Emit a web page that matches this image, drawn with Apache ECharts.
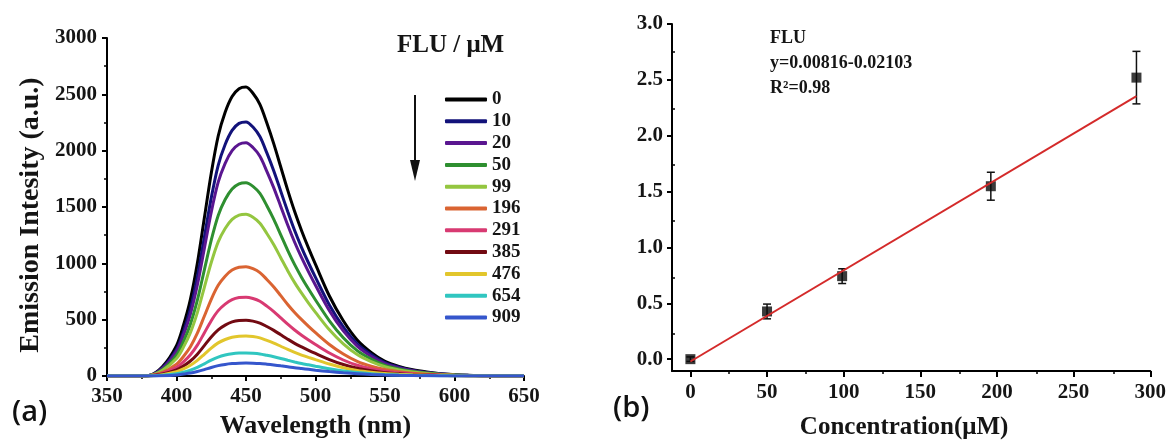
<!DOCTYPE html>
<html>
<head>
<meta charset="utf-8">
<script src="https://cdn.jsdelivr.net/npm/echarts@6/dist/echarts.min.js"></script>
<style>
  html, body { margin: 0; padding: 0; background: #fff; }
  #chart { width: 1169px; height: 445px; }
</style>
</head>
<body>
<div id="chart"></div>
<script>
// (a) emission spectra (5 nm steps around the peak)
const wavelengths = [350, 360, 370, 380, 390,
  400, 405, 410, 415, 420, 425, 430, 435, 440, 445, 450, 455, 460, 465, 470, 475, 480, 485, 490, 495, 500,
  510, 520, 530, 540, 550, 560, 570, 580, 590, 600, 610, 620, 630, 640, 650]

const flu0   = [0, 0, 0, 5, 85, 270, 450, 680, 1000, 1400, 1800, 2130, 2340, 2480, 2550, 2565, 2510, 2410, 2245, 2060, 1855, 1650, 1460, 1290, 1135, 990, 710, 490, 320, 210, 130, 85, 55, 35, 20, 12, 6, 3, 1, 0, 0]
const flu10  = [0, 0, 0, 4, 75, 235, 393, 595, 878, 1230, 1581, 1870, 2055, 2180, 2242, 2255, 2210, 2125, 1980, 1820, 1640, 1460, 1291, 1140, 1003, 875, 630, 435, 285, 190, 118, 78, 50, 32, 19, 11, 6, 3, 1, 0, 0]
const flu20  = [0, 0, 0, 4, 70, 220, 365, 550, 808, 1130, 1454, 1720, 1888, 2000, 2057, 2070, 2028, 1950, 1817, 1670, 1505, 1340, 1187, 1050, 924, 805, 580, 400, 265, 175, 110, 72, 47, 30, 18, 10, 5, 3, 1, 0, 0]
const flu50  = [0, 0, 0, 3, 58, 185, 305, 460, 673, 940, 1206, 1425, 1566, 1660, 1706, 1715, 1683, 1620, 1511, 1390, 1253, 1115, 988, 875, 772, 675, 490, 340, 225, 150, 95, 63, 41, 26, 16, 9, 5, 2, 1, 0, 0]
const flu99  = [0, 0, 0, 3, 50, 155, 256, 385, 563, 785, 1007, 1190, 1309, 1390, 1428, 1435, 1408, 1355, 1265, 1165, 1050, 935, 829, 735, 647, 565, 410, 285, 190, 127, 82, 54, 35, 22, 14, 8, 4, 2, 1, 0, 0]
const flu196 = [0, 0, 0, 2, 33, 105, 173, 260, 380, 530, 681, 805, 886, 940, 966, 970, 952, 918, 857, 790, 713, 635, 564, 500, 441, 385, 280, 195, 130, 87, 57, 38, 25, 16, 10, 6, 3, 1, 0, 0, 0]
const flu291 = [0, 0, 0, 1, 24, 76, 125, 188, 274, 382, 491, 580, 638, 678, 697, 700, 688, 663, 620, 572, 516, 460, 408, 362, 320, 280, 204, 142, 95, 64, 42, 28, 18, 12, 7, 4, 2, 1, 0, 0, 0]
const flu385 = [0, 0, 0, 1, 17, 54, 89, 133, 194, 270, 347, 410, 452, 480, 493, 495, 487, 470, 439, 405, 366, 327, 290, 258, 228, 200, 146, 102, 69, 46, 30, 20, 13, 8, 5, 3, 1, 0, 0, 0, 0]
const flu476 = [0, 0, 0, 0, 12, 38, 63, 95, 139, 193, 248, 294, 324, 344, 353, 355, 350, 338, 316, 292, 264, 236, 210, 186, 165, 145, 106, 74, 50, 34, 22, 15, 10, 6, 4, 2, 1, 0, 0, 0, 0]
const flu654 = [0, 0, 0, 0, 6, 20, 34, 52, 77, 108, 141, 168, 186, 198, 204, 205, 202, 196, 184, 171, 156, 140, 125, 111, 99, 87, 64, 45, 31, 21, 14, 9, 6, 4, 2, 1, 0, 0, 0, 0, 0]
const flu909 = [0, 0, 0, 0, 2, 9, 17, 26, 40, 57, 76, 92, 103, 110, 114, 115, 114, 111, 105, 98, 90, 82, 73, 66, 59, 52, 39, 28, 19, 13, 9, 6, 4, 2, 1, 0, 0, 0, 0, 0, 0]

const concLabels = ['0', '10', '20', '50', '99', '196', '291', '385', '476', '654', '909']
const spectra = [flu0, flu10, flu20, flu50, flu99, flu196, flu291, flu385, flu476, flu654, flu909]
const curveColors = ['#000000', '#12127a', '#5a1690', '#2e8f30', '#94c640', '#da6432', '#d83a72',
  '#720a12', '#e2c62c', '#30c6c0', '#3556cc']

// (b) calibration
const calConc = [0, 50, 99, 196, 291]
const calMean = [0.0, 0.427, 0.743, 1.548, 2.52]
const calErr = [0.02, 0.066, 0.066, 0.125, 0.235]
const fitX = [0, 291]
const fitY = [-0.021, 2.354]

const wlTicks = [350, 400, 450, 500, 550, 600, 650]
const intensityTicks = [0, 500, 1000, 1500, 2000, 2500, 3000]
const concTicks = [0, 50, 100, 150, 200, 250, 300]
const concMinor = [25, 75, 125, 175, 225, 275]
const ratioTicks = [0, 0.5, 1.0, 1.5, 2.0, 2.5, 3.0]
const ratioMinor = [0.25, 0.75, 1.25, 1.75, 2.25, 2.75]

const serif = '"Liberation Serif", "Times New Roman", serif'
const ink = '#151515'
const labelStyle = { fontFamily: serif, fontWeight: 'bold', fontSize: 21, color: ink }

const rightRect = { left: 672, top: 24, width: 480, height: 350 }

const chart = echarts.init(document.getElementById('chart'))

chart.setOption({
  animation: false,
  backgroundColor: '#fff',
  grid: [
    { left: 107, top: 38, width: 417, height: 338 },
    rightRect,
    rightRect
  ],
  legend: {
    orient: 'vertical',
    left: 440,
    top: 85,
    itemWidth: 42,
    itemHeight: 4,
    itemGap: 2.8,
    icon: 'roundRect',
    data: concLabels,
    textStyle: { fontFamily: serif, fontWeight: 'bold', fontSize: 19, color: ink }
  },
  xAxis: [
    {
      gridIndex: 0,
      type: 'value',
      min: 350,
      max: 650,
      interval: 50,
      name: 'Wavelength (nm)',
      nameLocation: 'middle',
      nameGap: 37,
      nameTextStyle: { fontFamily: serif, fontWeight: 'bold', fontSize: 26, color: ink },
      axisLine: { onZero: false, lineStyle: { color: '#000', width: 2 } },
      axisTick: { length: 5, lineStyle: { color: '#000', width: 2 } },
      minorTick: { show: true, splitNumber: 2, length: 3, lineStyle: { color: '#000', width: 1.5 } },
      axisLabel: { ...labelStyle, margin: 10, customValues: wlTicks, formatter: v => String(v) },
      splitLine: { show: false }
    },
    {
      gridIndex: 1,
      type: 'value',
      min: -12,
      max: 300,
      name: 'Concentration(μM)',
      nameLocation: 'middle',
      nameGap: 44,
      nameTextStyle: { fontFamily: serif, fontWeight: 'bold', fontSize: 25, color: ink, padding: [0, 14, 0, 0] },
      axisLine: { onZero: false, lineStyle: { color: '#000', width: 2 } },
      axisTick: { length: 6, customValues: concTicks, lineStyle: { color: '#000', width: 2 } },
      axisLabel: { ...labelStyle, margin: 11, customValues: concTicks, formatter: v => String(v) },
      splitLine: { show: false }
    },
    {
      gridIndex: 2,
      type: 'value',
      min: -12,
      max: 300,
      axisLine: { show: false, onZero: false },
      axisTick: { inside: true, length: 3, customValues: concMinor, lineStyle: { color: '#000', width: 1.5 } },
      axisLabel: { show: false },
      splitLine: { show: false }
    }
  ],
  yAxis: [
    {
      gridIndex: 0,
      type: 'value',
      min: 0,
      max: 3000,
      interval: 500,
      name: 'Emission Intesity (a.u.)',
      nameLocation: 'middle',
      nameGap: 62,
      nameTextStyle: { fontFamily: serif, fontWeight: 'bold', fontSize: 28, color: ink, padding: [0, 16, 0, 0] },
      axisLine: { show: true, onZero: false, lineStyle: { color: '#000', width: 2 } },
      axisTick: { show: true, length: 5, lineStyle: { color: '#000', width: 2 } },
      minorTick: { show: true, splitNumber: 2, length: 3, lineStyle: { color: '#000', width: 1.5 } },
      axisLabel: { ...labelStyle, margin: 10, customValues: intensityTicks, formatter: v => String(v) },
      splitLine: { show: false }
    },
    {
      gridIndex: 1,
      type: 'value',
      min: -0.106,
      max: 3.0,
      axisLine: { show: true, onZero: false, lineStyle: { color: '#000', width: 2 } },
      axisTick: { show: true, length: 5, customValues: ratioTicks, lineStyle: { color: '#000', width: 2 } },
      axisLabel: { ...labelStyle, margin: 9, customValues: ratioTicks, formatter: v => v.toFixed(1) },
      splitLine: { show: false }
    },
    {
      gridIndex: 2,
      type: 'value',
      min: -0.106,
      max: 3.0,
      axisLine: { show: false, onZero: false },
      axisTick: { show: true, inside: true, length: 3, customValues: ratioMinor, lineStyle: { color: '#000', width: 1.5 } },
      axisLabel: { show: false },
      splitLine: { show: false }
    }
  ],
  graphic: [
    {
      type: 'text',
      left: 397,
      top: 33,
      style: { text: 'FLU / μM', font: 'bold 25px ' + serif, fill: ink }
    },
    {
      type: 'line',
      shape: { x1: 415, y1: 95, x2: 415, y2: 162 },
      style: { stroke: '#111', lineWidth: 2 }
    },
    {
      type: 'polygon',
      shape: { points: [[410, 160], [420, 160], [415, 181]] },
      style: { fill: '#111' }
    },
    {
      type: 'text',
      left: 12,
      top: 398,
      style: { text: '(a)', font: '600 29px "Open Sans", "Noto Sans", sans-serif', fill: '#111' }
    },
    {
      type: 'text',
      left: 613,
      top: 394,
      style: { text: '(b)', font: '600 29px "Open Sans", "Noto Sans", sans-serif', fill: '#111' }
    },
    {
      type: 'text',
      left: 770,
      top: 26,
      style: {
        text: 'FLU\ny=0.00816-0.02103\nR²=0.98',
        font: 'bold 18px ' + serif,
        lineHeight: 25,
        fill: ink
      }
    }
  ],
  series: [
    ...spectra.map((vals, i) => ({
      name: concLabels[i],
      type: 'line',
      xAxisIndex: 0,
      yAxisIndex: 0,
      smooth: 0.3,
      symbol: 'none',
      color: curveColors[i],
      lineStyle: { width: 3, color: curveColors[i] },
      data: wavelengths.map((w, j) => [w, vals[j]]),
      z: 2 + i
    })),
    {
      type: 'custom',
      xAxisIndex: 1,
      yAxisIndex: 1,
      data: calConc.map((c, i) => [c, calMean[i] - calErr[i], calMean[i] + calErr[i]]),
      encode: { x: 0, y: [1, 2] },
      renderItem: (params, api) => {
        const top = api.coord([api.value(0), api.value(2)])
        const bot = api.coord([api.value(0), api.value(1)])
        const hw = 4
        const st = { stroke: '#111', lineWidth: 1.5 }
        return {
          type: 'group',
          children: [
            { type: 'line', shape: { x1: top[0], y1: top[1], x2: bot[0], y2: bot[1] }, style: st },
            { type: 'line', shape: { x1: top[0] - hw, y1: top[1], x2: top[0] + hw, y2: top[1] }, style: st },
            { type: 'line', shape: { x1: bot[0] - hw, y1: bot[1], x2: bot[0] + hw, y2: bot[1] }, style: st }
          ]
        }
      },
      z: 3
    },
    {
      type: 'scatter',
      xAxisIndex: 1,
      yAxisIndex: 1,
      symbol: 'rect',
      symbolSize: 10,
      itemStyle: { color: '#0a0a0a' },
      data: calConc.map((c, i) => [c, calMean[i]]),
      z: 4
    },
    {
      type: 'line',
      xAxisIndex: 1,
      yAxisIndex: 1,
      symbol: 'none',
      lineStyle: { color: '#d42a2a', width: 2 },
      data: fitX.map((x, i) => [x, fitY[i]]),
      z: 5
    }
  ]
})
</script>
</body>
</html>
